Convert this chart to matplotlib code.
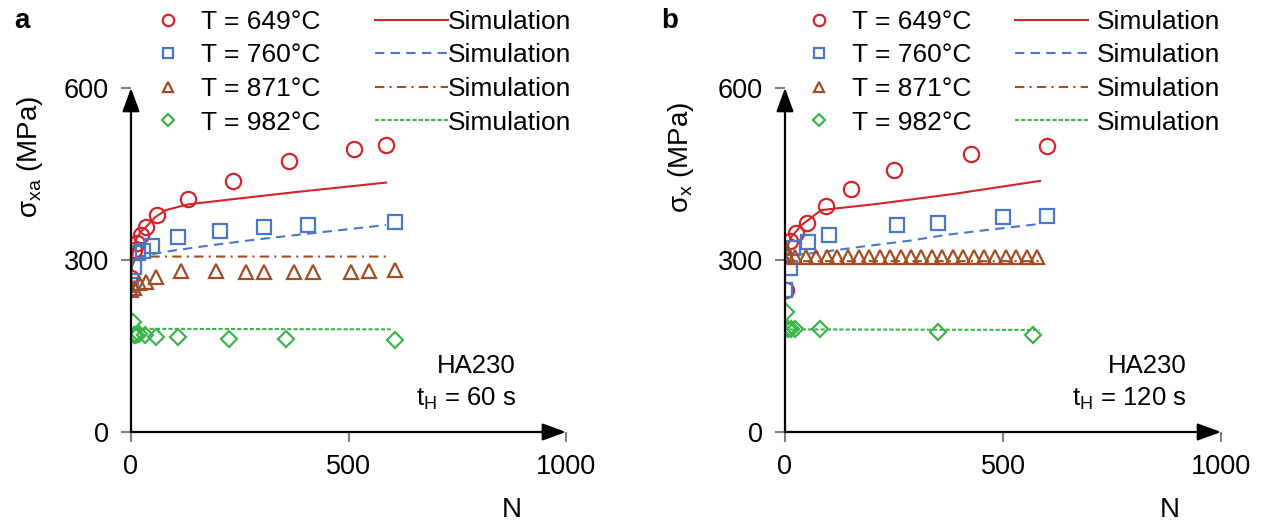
import matplotlib.pyplot as plt

# Шрифт как у оригинала (Arial-подобный)
plt.rcParams['font.family'] = ['Liberation Sans', 'DejaVu Sans']
plt.rcParams['font.size'] = 19

# Температуры серий
TEMPERATURES = [649, 760, 871, 982]

# Панель a, t_H = 60 s: эксперимент (N, напряжение)
A_N_649 = [0, 7, 13, 23, 35, 60, 131, 235, 364, 513, 586]
A_S_649 = [268, 318, 330, 344, 358, 379, 406, 437, 472, 493, 501]
A_N_760 = [0, 7, 15, 27, 49, 107, 204, 306, 406, 606]
A_S_760 = [257, 288, 312, 315, 324, 340, 350, 358, 361, 367]
A_N_871 = [0, 7, 19, 35, 58, 115, 195, 264, 306, 375, 418, 506, 548, 606]
A_S_871 = [248, 251, 260, 262, 271, 280, 280, 279, 279, 279, 279, 279, 280, 283]
A_N_982 = [4, 6, 11, 19, 33, 58, 107, 226, 356, 606]
A_S_982 = [192, 170, 170, 171, 170, 166, 165, 163, 163, 161]

# Панель a: расчет
A_SIM_N_649 = [0, 4, 11, 23, 35, 56, 80, 131, 233, 373, 586]
A_SIM_S_649 = [270, 312, 335, 350, 358, 375, 387, 397, 406, 418, 435]
A_SIM_N_760 = [0, 7, 19, 47, 93, 187, 280, 373, 467, 586]
A_SIM_S_760 = [280, 300, 306, 310, 316, 326, 335, 343, 351, 361]
A_SIM_N_871 = [0, 5, 14, 597]
A_SIM_S_871 = [255, 295, 306, 306]
A_SIM_N_982 = [0, 9, 597]
A_SIM_S_982 = [181, 180, 179]

# Панель b, t_H = 120 s: эксперимент
B_N_649 = [3, 11, 26, 51, 93, 151, 250, 426, 601]
B_S_649 = [247, 333, 347, 365, 394, 424, 457, 485, 499]
B_N_760 = [0, 11, 18, 52, 102, 256, 351, 499, 600]
B_S_760 = [247, 286, 321, 332, 344, 361, 364, 375, 376]
B_N_871 = [0, 5, 24, 48, 72, 96, 120, 144, 169, 193, 217, 241, 265, 289,
           313, 337, 361, 385, 409, 433, 457, 482, 506, 530, 554, 578]
B_S_871 = [322, 308, 305, 305, 305, 305, 305, 305, 305, 305, 305, 305, 305,
           305, 305, 305, 305, 305, 305, 305, 305, 305, 305, 305, 305, 305]
B_N_982 = [2, 7, 13, 22, 80, 351, 569]
B_S_982 = [210, 180, 179, 180, 180, 175, 169]

# Панель b: расчет
B_SIM_N_649 = [0, 4, 14, 38, 83, 213, 385, 585]
B_SIM_S_649 = [300, 320, 340, 361, 387, 398, 415, 438]
B_SIM_N_760 = [0, 10, 67, 173, 289, 371, 482, 585]
B_SIM_S_760 = [290, 308, 312, 323, 334, 344, 354, 363]
B_SIM_N_871 = [0, 10, 585]
B_SIM_S_871 = [310, 298, 298]
B_SIM_N_982 = [0, 5, 585]
B_SIM_S_982 = [185, 179, 178]

# Оформление серий
COLORS = ['#d3262c', '#4a78c8', '#a54d22', '#3cb54a']
MARKERS = ['o', 's', '^', 'D']
MARKER_SIZES = [11, 10, 10, 8]
LINESTYLES = ['-', (0, (4.5, 3)), (0, (4.5, 2.5, 1, 2.5)), (0, (2, 1))]

W, H = 1269, 521


def fig_x(px):
    return px / W


def fig_y(px):
    return 1 - px / H


def build_panel(ax, exp_data, sim_data, ylabel, hold_time, letter, layout):
    """
    Строит одну панель: точки эксперимента, линии расчета,
    оси со стрелками, две легенды и подписи.
    """
    marker_handles = []
    line_handles = []
    for i, temp in enumerate(TEMPERATURES):
        n_sim, s_sim = sim_data[i]
        h, = ax.plot(n_sim, s_sim, color=COLORS[i], lw=1.5,
                     linestyle=LINESTYLES[i], label='Simulation')
        line_handles.append(h)
    for i, temp in enumerate(TEMPERATURES):
        n_exp, s_exp = exp_data[i]
        h, = ax.plot(n_exp, s_exp, linestyle='none', marker=MARKERS[i],
                     ms=MARKER_SIZES[i], mfc='none', mec=COLORS[i], mew=1.6,
                     label=f'T = {temp}°C')
        marker_handles.append(h)

    ax.set_xlim(0, 1000)
    ax.set_ylim(0, 600)
    ax.set_xticks([0, 500, 1000])
    ax.set_yticks([0, 300, 600])
    ax.tick_params(direction='out', length=7, width=1.5, color='#808080',
                   labelsize=19.5)
    ax.tick_params(axis='x', pad=9)
    ax.tick_params(axis='y', pad=9)
    for sp in ax.spines.values():
        sp.set_visible(False)

    # оси со стрелками
    arrow = dict(arrowstyle='-|>,head_length=0.9,head_width=0.33',
                 color='black', lw=1.6, shrinkA=0, shrinkB=0,
                 mutation_scale=16)
    ax.annotate('', xy=(1, 0), xytext=(0, 0), xycoords='axes fraction',
                arrowprops=arrow)
    ax.annotate('', xy=(0, 1), xytext=(0, 0), xycoords='axes fraction',
                arrowprops=arrow)

    fig = ax.figure
    width_px = layout['x1'] - layout['x0']

    ax.set_xlabel('N', fontsize=20)
    ax.xaxis.set_label_coords((layout['n_x'] - layout['x0']) / width_px,
                              (432 - 510) / 344)
    ax.xaxis.label.set_va('center')
    ax.set_ylabel(ylabel, fontsize=20)
    ax.yaxis.set_label_coords((layout['yl_x'] - layout['x0']) / width_px,
                              (432 - 157) / 344)
    ax.yaxis.label.set_va('center')

    note_x = (layout['note_x'] - layout['x0']) / width_px
    ax.text(note_x, (432 - 366) / 344, 'HA230', transform=ax.transAxes,
            ha='right', va='center', fontsize=18.5)
    ax.text(note_x, (432 - 399) / 344,
            r'$\mathregular{t_H}$ = ' + hold_time, transform=ax.transAxes,
            ha='right', va='center', fontsize=18.5)

    fig.text(fig_x(layout['letter_x']), fig_y(21), letter, weight='bold',
             ha='center', va='center', fontsize=20)

    leg1 = ax.legend(handles=marker_handles, loc='upper left',
                     bbox_to_anchor=(fig_x(layout['mk_x']), fig_y(10)),
                     bbox_transform=fig.transFigure, frameon=False,
                     borderpad=0, borderaxespad=0, handlelength=1.0,
                     handletextpad=0.75, labelspacing=0.36, markerscale=0.75,
                     fontsize=19)
    ax.add_artist(leg1)
    ax.legend(handles=line_handles, loc='upper left',
              bbox_to_anchor=(fig_x(layout['ln_x']), fig_y(10)),
              bbox_transform=fig.transFigure, frameon=False,
              borderpad=0, borderaxespad=0, handlelength=2.75,
              handletextpad=layout['ln_pad'], labelspacing=0.36, fontsize=19)


if __name__ == "__main__":
    fig = plt.figure(figsize=(W / 100, H / 100), dpi=100)

    layout_a = dict(x0=131, x1=566, n_x=512, yl_x=30, note_x=516,
                    letter_x=22, mk_x=155, ln_x=375, ln_pad=0.02)
    layout_b = dict(x0=785, x1=1221, n_x=1170, yl_x=681, note_x=1187,
                    letter_x=670, mk_x=806, ln_x=1015, ln_pad=0.35)

    ax_a = fig.add_axes([fig_x(layout_a['x0']), fig_y(432),
                         (layout_a['x1'] - layout_a['x0']) / W, (432 - 88) / H])
    ax_b = fig.add_axes([fig_x(layout_b['x0']), fig_y(432),
                         (layout_b['x1'] - layout_b['x0']) / W, (432 - 88) / H])

    exp_a = [(A_N_649, A_S_649), (A_N_760, A_S_760),
             (A_N_871, A_S_871), (A_N_982, A_S_982)]
    sim_a = [(A_SIM_N_649, A_SIM_S_649), (A_SIM_N_760, A_SIM_S_760),
             (A_SIM_N_871, A_SIM_S_871), (A_SIM_N_982, A_SIM_S_982)]
    exp_b = [(B_N_649, B_S_649), (B_N_760, B_S_760),
             (B_N_871, B_S_871), (B_N_982, B_S_982)]
    sim_b = [(B_SIM_N_649, B_SIM_S_649), (B_SIM_N_760, B_SIM_S_760),
             (B_SIM_N_871, B_SIM_S_871), (B_SIM_N_982, B_SIM_S_982)]

    build_panel(ax_a, exp_a, sim_a, r'σ$_\mathregular{xa}$ (MPa)', '60 s', 'a',
                layout_a)
    build_panel(ax_b, exp_b, sim_b, r'σ$_\mathregular{x}$ (MPa)', '120 s', 'b',
                layout_b)

    fig.savefig('out.png', dpi=100)
